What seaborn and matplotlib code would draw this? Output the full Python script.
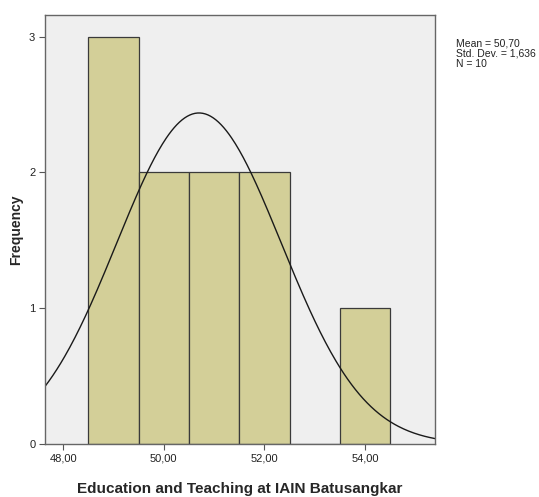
import numpy as np
import pandas as pd
import matplotlib
matplotlib.use("Agg")
import matplotlib.pyplot as plt
import seaborn as sns

# Scores (49 x3, 50 x2, 51 x2, 52 x2, 54 x1)
scores = [49, 49, 49, 50, 50, 51, 51, 52, 52, 54]
bin_edges = [48.5, 49.5, 50.5, 51.5, 52.5, 53.5, 54.5]
x_ticks = [48, 50, 52, 54]
y_ticks = [0, 1, 2, 3]

df = pd.DataFrame({"score": scores})
mean = df["score"].mean()
sd = df["score"].std()
n = len(df)

sns.set_style("white")
plt.rcParams["font.family"] = ["Liberation Sans", "DejaVu Sans"]

fig = plt.figure(figsize=(5.39, 4.97), dpi=100)
ax = fig.add_axes([0.0835, 0.1066, 0.7235, 0.8634])
ax.set_facecolor("#efefef")

sns.histplot(data=df, x="score", bins=bin_edges, color="#d3cf98",
             edgecolor="#3a3a3a", linewidth=0.9, alpha=1, ax=ax)

# normal curve scaled to counts
xs = np.linspace(47.64, 55.39, 300)
ys = n * 1.0 / (sd * np.sqrt(2 * np.pi)) * np.exp(-0.5 * ((xs - mean) / sd) ** 2)
ax.plot(xs, ys, color="#1a1a1a", linewidth=1.0)

ax.set_xlim(47.64, 55.39)
ax.set_ylim(0, 3.16)
ax.set_xticks(x_ticks)
ax.set_xticklabels([f"{t:.2f}".replace(".", ",") for t in x_ticks])
ax.set_yticks(y_ticks)
ax.tick_params(axis="both", direction="out", length=4, width=0.8,
               color="#555555", labelsize=8, labelcolor="#222222", pad=3)
ax.tick_params(axis="x", bottom=True)
ax.tick_params(axis="y", left=True)
for s in ax.spines.values():
    s.set_color("#666666")
    s.set_linewidth(1.0)

ax.set_xlabel("Education and Teaching at IAIN Batusangkar",
              fontsize=11, fontweight="bold", labelpad=13)
ax.set_ylabel("Frequency", fontsize=10, fontweight="bold", labelpad=4)

fig.text(0.846, 0.922,
         f"Mean = {mean:.2f}\nStd. Dev. = {sd:.3f}\nN = {n}".replace(".", ",")
         .replace("Std, Dev,", "Std. Dev."),
         fontsize=7.5, va="top", ha="left", linespacing=1.0, color="#222222")

fig.savefig("out.png", dpi=100)
